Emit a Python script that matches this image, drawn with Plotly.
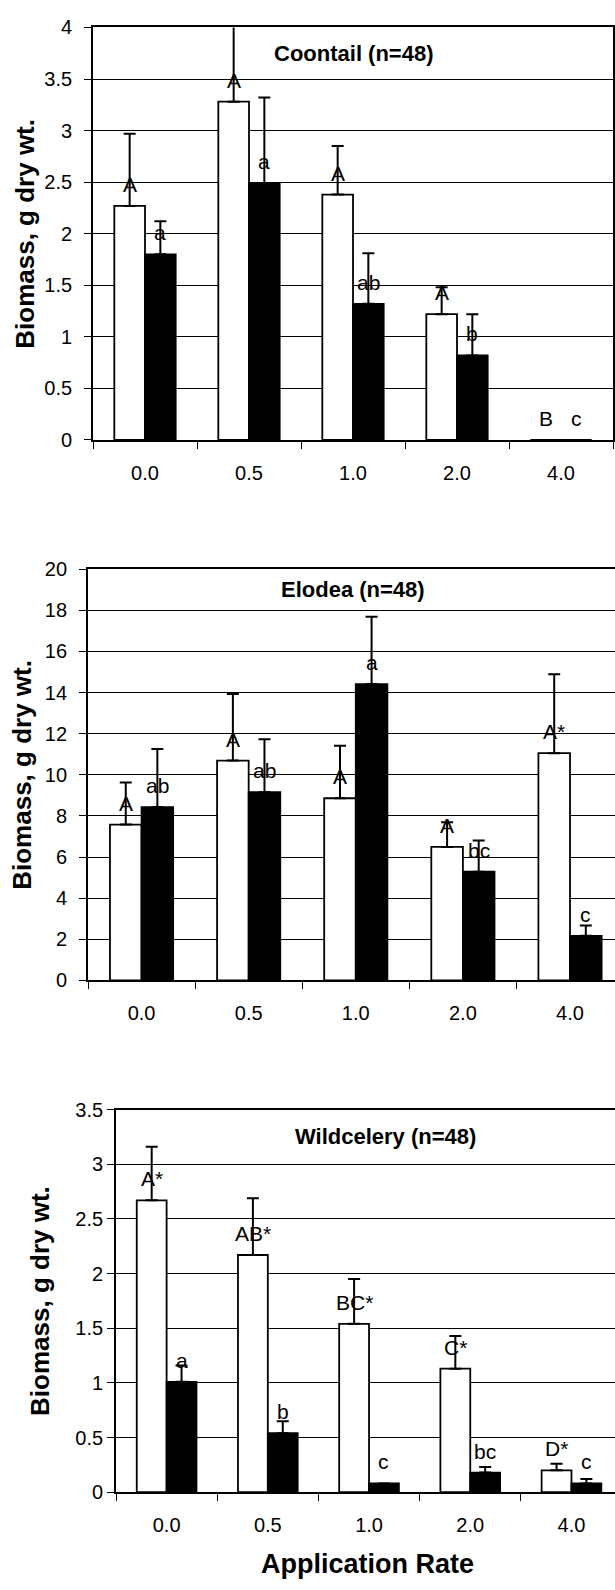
import plotly.graph_objects as go

# ---------------- data ----------------
categories = ["0.0", "0.5", "1.0", "2.0", "4.0"]

coontail_open = [2.27, 3.28, 2.38, 1.22, 0.0]
coontail_open_err = [0.70, 0.74, 0.47, 0.26, 0.0]
coontail_open_lbl = ["A", "A", "A", "A", "B"]
coontail_filled = [1.80, 2.49, 1.32, 0.82, 0.0]
coontail_filled_err = [0.32, 0.83, 0.49, 0.40, 0.0]
coontail_filled_lbl = ["a", "a", "ab", "b", "c"]

elodea_open = [7.58, 10.69, 8.86, 6.49, 11.05]
elodea_open_err = [2.04, 3.24, 2.55, 1.20, 3.84]
elodea_open_lbl = ["A", "A", "A", "A", "A*"]
elodea_filled = [8.43, 9.15, 14.41, 5.29, 2.17]
elodea_filled_err = [2.82, 2.58, 3.28, 1.52, 0.50]
elodea_filled_lbl = ["ab", "ab", "a", "bc", "c"]

wild_open = [2.67, 2.17, 1.54, 1.13, 0.20]
wild_open_err = [0.49, 0.52, 0.41, 0.30, 0.06]
wild_open_lbl = ["A*", "AB*", "BC*", "C*", "D*"]
wild_filled = [1.01, 0.54, 0.08, 0.18, 0.08]
wild_filled_err = [0.15, 0.11, 0.0, 0.05, 0.04]
wild_filled_lbl = ["a", "b", "c", "bc", "c"]

panel_titles = ["Coontail (n=48)", "Elodea (n=48)", "Wildcelery (n=48)"]
y_ranges = [[0, 4], [0, 20], [0, 3.5]]
y_dticks = [0.5, 2, 0.5]
y_title = "Biomass, g dry wt."
x_title = "Application Rate"

# ---------------- layout geometry (pixels) ----------------
W, H = 615, 1590
FONT = "Liberation Sans, Arial, sans-serif"
BARGAP = 0.41
# xr: visible end of the category range (panels 2 and 3 run past the right edge)
panels = [
    dict(x0=93, x1=613, xr=4.5, y0=16.7, y1=435, ytx=25, tx=354, ty=42.7,
         ystand=8, rbox=True),
    dict(x0=88, x1=615, xr=4.42, y0=566, y1=983, ytx=22, tx=353, ty=586.7,
         ystand=8, rbox=False),
    dict(x0=116, x1=615, xr=4.43, y0=1114, y1=1502, ytx=40, tx=385, ty=1141.7,
         ystand=0, rbox=False),
]

series = [
    (coontail_open, coontail_open_err, coontail_open_lbl, coontail_filled, coontail_filled_err, coontail_filled_lbl),
    (elodea_open, elodea_open_err, elodea_open_lbl, elodea_filled, elodea_filled_err, elodea_filled_lbl),
    (wild_open, wild_open_err, wild_open_lbl, wild_filled, wild_filled_err, wild_filled_lbl),
]

fig = go.Figure()
annotations = []
half = (1 - BARGAP) / 4  # offset of each bar centre from its category centre

for i, (p, s) in enumerate(zip(panels, series)):
    n = "" if i == 0 else str(i + 1)
    xa, ya = "x" + n, "y" + n
    ov, oe, ol, fv, fe, fl = s
    for k, (vals, errs, lbls, fill) in enumerate(((ov, oe, ol, "white"), (fv, fe, fl, "black"))):
        fig.add_trace(go.Bar(
            x=categories, y=vals, xaxis=xa, yaxis=ya,
            marker=dict(color=fill, line=dict(color="black", width=1.8)),
            error_y=dict(type="data", array=errs, arrayminus=[0] * len(errs),
                         symmetric=False, color="black", thickness=2, width=6),
            showlegend=False, hoverinfo="skip",
        ))
        sign = -1 if k == 0 else 1
        for j, (v, t) in enumerate(zip(vals, lbls)):
            annotations.append(dict(
                text=t, xref=xa, yref=ya, x=j + sign * half, y=v,
                xanchor="center", yanchor="bottom", showarrow=False,
                yshift=8,
                font=dict(family=FONT, size=21, color="black"),
            ))
    dom_y = [1 - p["y1"] / H, 1 - p["y0"] / H]
    fig.update_layout(**{
        "xaxis" + n: dict(
            domain=[p["x0"] / W, p["x1"] / W], anchor=ya, type="category",
            range=[-0.5, p["xr"]],
            showline=True, linecolor="black", linewidth=1.8, mirror=True,
            ticks="outside", tickson="boundaries", ticklen=7, tickcolor="black",
            tickwidth=1.2, ticklabelstandoff=14,
            tickfont=dict(family=FONT, size=20, color="black"),
            showgrid=False, fixedrange=True,
        ),
        "yaxis" + n: dict(
            domain=dom_y, anchor=xa, range=y_ranges[i], dtick=y_dticks[i],
            showline=True, linecolor="black", linewidth=1.8,
            mirror=True if p["rbox"] else False,
            ticks="outside", ticklen=7, tickcolor="black", tickwidth=1.2,
            ticklabelstandoff=p["ystand"],
            tickfont=dict(family=FONT, size=20, color="black"),
            showgrid=True, gridcolor="black", gridwidth=1.2, zeroline=False,
            fixedrange=True,
        ),
    })
    annotations.append(dict(
        text="<b>%s</b>" % panel_titles[i], xref="paper", yref="paper",
        x=p["tx"] / W, y=1 - p["ty"] / H, showarrow=False,
        xanchor="center", yanchor="middle",
        font=dict(family=FONT, size=22, color="black"),
    ))
    annotations.append(dict(
        text="<b>%s</b>" % y_title, xref="paper", yref="paper",
        x=p["ytx"] / W, y=1 - (p["y0"] + p["y1"]) / 2 / H, showarrow=False,
        textangle=-90, xanchor="center", yanchor="middle",
        font=dict(family=FONT, size=26, color="black"),
    ))

annotations.append(dict(
    text="<b>%s</b>" % x_title, xref="paper", yref="paper",
    x=367 / W, y=1 - 1575 / H, showarrow=False,
    xanchor="center", yanchor="middle",
    font=dict(family=FONT, size=27, color="black"),
))

fig.update_layout(
    width=W, height=H,
    margin=dict(l=0, r=0, t=0, b=0),
    paper_bgcolor="white", plot_bgcolor="white",
    barmode="group", bargap=BARGAP, bargroupgap=0,
    annotations=annotations,
    font=dict(family=FONT, color="black"),
)

fig.write_html(
    "out.html",
    config={"displayModeBar": False},
    post_script=("document.documentElement.style.margin='0';"
                 "document.body.style.margin='0';"
                 "document.documentElement.style.overflow='hidden';"
                 "document.body.style.overflow='hidden';"),
)
